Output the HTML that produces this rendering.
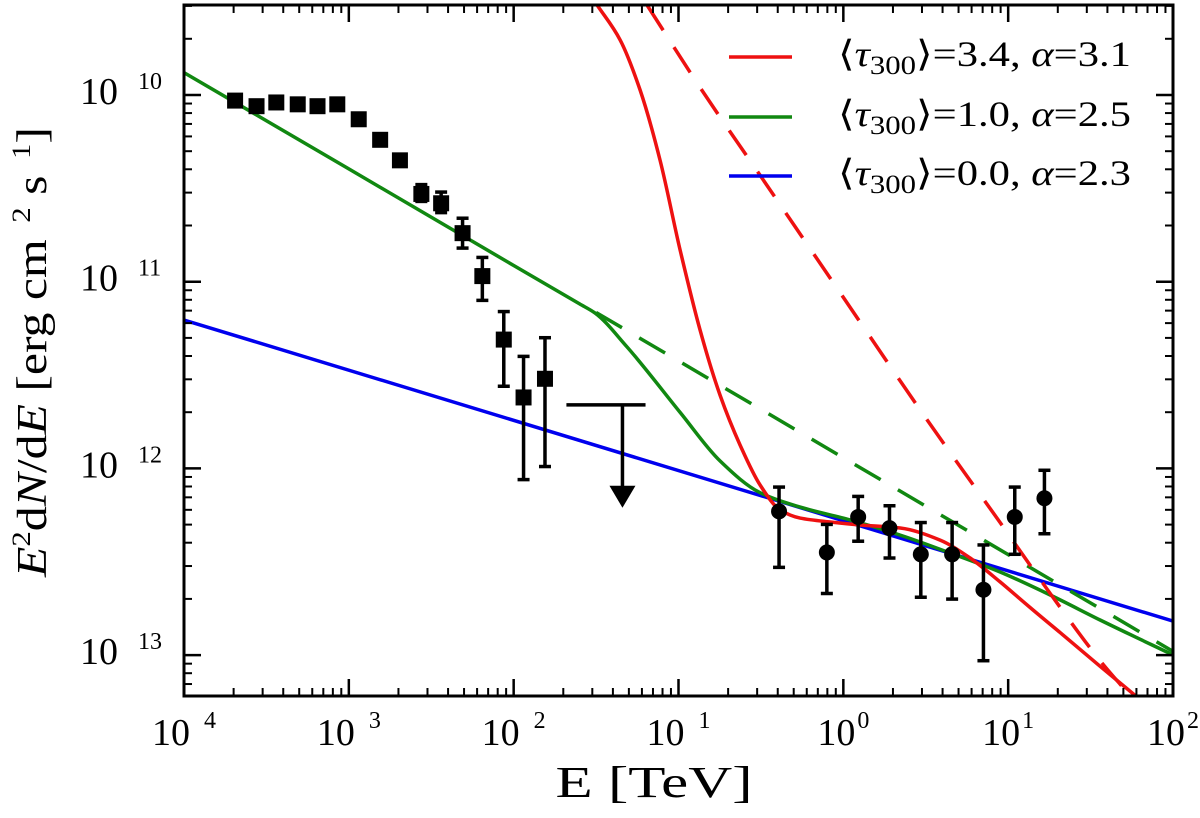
<!DOCTYPE html>
<html><head><meta charset="utf-8">
<style>
html,body{margin:0;padding:0;background:#fff;}
svg{display:block;font-family:"Liberation Serif","DejaVu Serif",serif;}
</style></head>
<body>
<svg id="chart" width="1200" height="818" viewBox="0 0 1200 818" xmlns="http://www.w3.org/2000/svg">
<defs><clipPath id="plotclip"><rect x="184" y="5" width="989" height="691"/></clipPath></defs>
<rect x="0" y="0" width="1200" height="818" fill="#fff"/>
<g id="curves" clip-path="url(#plotclip)"></g>
<g id="points"></g>
<g id="axes"></g>
<text x="654" y="797" font-size="44" text-anchor="middle" textLength="197" lengthAdjust="spacingAndGlyphs">E [TeV]</text>
<text transform="translate(46,352) rotate(-90)" font-size="42" text-anchor="middle" textLength="450" lengthAdjust="spacingAndGlyphs"><tspan font-style="italic">E</tspan><tspan font-size="26" dy="-16">2</tspan><tspan dy="16">d</tspan><tspan font-style="italic">N</tspan>/d<tspan font-style="italic">E</tspan> [erg cm<tspan font-size="26" dx="14" dy="-16">2</tspan><tspan dy="16"> s</tspan><tspan font-size="26" dx="14" dy="-16">1</tspan><tspan dy="16">]</tspan></text>
<g id="legend"></g>
</svg>
<script>
// ---- data (log10 values) ----
const xDomain = [-4, 2];
const yDomain = [-9.518, -13.219];
const sqLogE = [-3.69,-3.56,-3.44,-3.31,-3.19,-3.07,-2.94,-2.81,-2.69,-2.56,-2.44,-2.31,-2.19,-2.06,-1.94,-1.81];
const sqLogF = [-10.03,-10.06,-10.04,-10.05,-10.06,-10.05,-10.13,-10.24,-10.35,-10.53,-10.58,-10.74,-10.97,-11.31,-11.62,-11.52];
const sqErrHi = [null,null,null,null,null,null,null,null,null,-10.48,-10.52,-10.66,-10.87,-11.16,-11.40,-11.30];
const sqErrLo = [null,null,null,null,null,null,null,null,null,-10.57,-10.63,-10.82,-11.10,-11.56,-12.06,-11.99];
const ulLogE = [-1.34]; const ulLogEWidth = [-1.68,-1.20]; const ulLogF = [-11.66]; const ulArrowTo = [-12.2];
const ciLogE = [-0.39,-0.10,0.09,0.28,0.47,0.66,0.85,1.04,1.22];
const ciLogF = [-12.23,-12.45,-12.26,-12.32,-12.46,-12.46,-12.65,-12.26,-12.16];
const ciErrHi = [-12.10,-12.30,-12.15,-12.20,-12.29,-12.29,-12.41,-12.10,-12.01];
const ciErrLo = [-12.53,-12.67,-12.39,-12.48,-12.69,-12.70,-13.03,-12.46,-12.35];
const blueE = [-4, 2]; const blueF = [-11.205, -12.818];
const greenE = [-4,-3,-2,-1.6,-1.506,-1.312,-0.990,-0.748,-0.505,-0.262,0.041,0.345,0.648,0.951,1.255,1.558,2.0];
const greenF = [-9.88,-10.396,-10.913,-11.119,-11.168,-11.35,-11.70,-11.96,-12.13,-12.207,-12.276,-12.357,-12.453,-12.555,-12.678,-12.812,-12.999];
const greenDashE = [-1.5, 2]; const greenDashF = [-11.165, -12.98];
const redE = [-1.494,-1.354,-1.233,-1.112,-0.990,-0.869,-0.748,-0.626,-0.505,-0.383,-0.262,-0.080,0.102,0.345,0.587,0.769,0.951,1.133,1.316,1.558,1.831];
const redF = [-9.518,-9.705,-9.973,-10.348,-10.830,-11.259,-11.607,-11.875,-12.089,-12.223,-12.266,-12.287,-12.303,-12.319,-12.384,-12.480,-12.608,-12.745,-12.880,-13.060,-13.260];
const redDashE = [-1.191,-0.869,-0.505,-0.080,0.509,0.951,1.255,1.558,1.783];
const redDashF = [-9.518,-9.960,-10.430,-10.980,-11.741,-12.290,-12.670,-13.030,-13.260];
const xTickExp = ["4","3","2","1","0","1","2"];
const yTickExp = ["10","11","12","13"];
const yTickVals = [-10,-11,-12,-13];
const legendLabels = [["3.4","3.1"],["1.0","2.5"],["0.0","2.3"]];

const L=184,R=1173,T=5,B=696;
function sx(v){return L+(v-xDomain[0])/(xDomain[1]-xDomain[0])*(R-L);}
function sy(v){return T+(v-yDomain[0])/(yDomain[1]-yDomain[0])*(B-T);}
const NS="http://www.w3.org/2000/svg";
function mk(tag,attrs,parent){const e=document.createElementNS(NS,tag);for(const k in attrs)e.setAttribute(k,attrs[k]);parent.appendChild(e);return e;}
const curves=document.getElementById('curves'),points=document.getElementById('points'),axes=document.getElementById('axes'),legend=document.getElementById('legend');
// monotone cubic (Fritsch-Carlson) path in pixel space
function smoothPath(P){
  const n=P.length;
  if(n<3){return 'M'+P.map(p=>p[0].toFixed(1)+','+p[1].toFixed(1)).join(' L');}
  const dx=[],m=[],t=[];
  for(let i=0;i<n-1;i++){dx.push(P[i+1][0]-P[i][0]);m.push((P[i+1][1]-P[i][1])/dx[i]);}
  t[0]=m[0];t[n-1]=m[n-2];
  for(let i=1;i<n-1;i++){
    if(m[i-1]*m[i]<=0)t[i]=0;
    else{const w1=2*dx[i]+dx[i-1],w2=dx[i]+2*dx[i-1];t[i]=(w1+w2)/(w1/m[i-1]+w2/m[i]);}
  }
  let d='M'+P[0][0].toFixed(1)+','+P[0][1].toFixed(1);
  for(let i=0;i<n-1;i++){
    const h=dx[i]/3;
    d+=' C'+(P[i][0]+h).toFixed(1)+','+(P[i][1]+t[i]*h).toFixed(1)+' '+(P[i+1][0]-h).toFixed(1)+','+(P[i+1][1]-t[i+1]*h).toFixed(1)+' '+P[i+1][0].toFixed(1)+','+P[i+1][1].toFixed(1);
  }
  return d;
}
function line(E,F,color,dash,name){
  const P=E.map((e,i)=>[sx(e),sy(F[i])]);
  const p=mk('path',{d:smoothPath(P),fill:'none',stroke:color,'stroke-width':3.5},curves);
  if(dash)p.setAttribute('stroke-dasharray','30 20');
  
  
}
line(blueE,blueF,'#0000ee',false,'blue-curve-tau0');
line(greenDashE,greenDashF,'#118811',true,'green-dashed-curve');
line(greenE,greenF,'#118811',false,'green-curve-tau1');
line(redDashE,redDashF,'#ee1111',true,'red-dashed-curve');
line(redE,redF,'#ee1111',false,'red-curve-tau3');

function errbar(x,hi,lo){
  const g=mk('g',{stroke:'#000','stroke-width':3.5},points);
  mk('line',{x1:x,x2:x,y1:sy(hi),y2:sy(lo)},g);
  mk('line',{x1:x-6,x2:x+6,y1:sy(hi),y2:sy(hi)},g);
  mk('line',{x1:x-6,x2:x+6,y1:sy(lo),y2:sy(lo)},g);
  
  
}
sqLogE.forEach((e,i)=>{
  const x=sx(e),y=sy(sqLogF[i]);
  if(sqErrHi[i]!==null)errbar(x,sqErrHi[i],sqErrLo[i]);
  const r=mk('rect',{x:x-8,y:y-8,width:16,height:16,fill:'#000'},points);
  
  
});
ciLogE.forEach((e,i)=>{
  const x=sx(e),y=sy(ciLogF[i]);
  errbar(x,ciErrHi[i],ciErrLo[i]);
  const c=mk('circle',{cx:x,cy:y,r:8,fill:'#000'},points);
  
  
});
ulLogE.forEach((e,i)=>{
  const g=mk('g',{stroke:'#000','stroke-width':3.5},points);
  
  
  const x=sx(e),y=sy(ulLogF[i]),y2=sy(ulArrowTo[i]);
  mk('line',{x1:sx(ulLogEWidth[0]),x2:sx(ulLogEWidth[1]),y1:y,y2:y},g);
  mk('line',{x1:x,x2:x,y1:y,y2:y2-18},g);
  mk('path',{d:`M${x-13},${y2-20} L${x+13},${y2-20} L${x},${y2+2} Z`,fill:'#000',stroke:'none'},g);
});

// axes frame
const fr=mk('rect',{x:L,y:T,width:R-L,height:B-T,fill:'none',stroke:'#000','stroke-width':3},axes);


for(let d=xDomain[0];d<=xDomain[1];d++){
  const x=sx(d);
  mk('line',{x1:x,x2:x,y1:B,y2:B-17,stroke:'#000','stroke-width':2.5},axes);
  mk('line',{x1:x,x2:x,y1:T,y2:T+17,stroke:'#000','stroke-width':2.5},axes);
  if(d<xDomain[1])for(let m=2;m<=9;m++){
    const xm=sx(d+Math.log10(m));
    mk('line',{x1:xm,x2:xm,y1:B,y2:B-8,stroke:'#000','stroke-width':2},axes);
    mk('line',{x1:xm,x2:xm,y1:T,y2:T+8,stroke:'#000','stroke-width':2},axes);
  }
  const i=d-xDomain[0];
  const t=mk('text',{x:x,y:745,'font-size':38,'text-anchor':'middle'},axes);
  t.textContent='10';
  const ts=mk('tspan',{dx:(d<0?14:2),dy:-17,'font-size':24},t);
  ts.textContent=xTickExp[i];
  
  
}
for(let d=-10;d>=-14;d--){
  const y=sy(d);
  if(y>=T-1&&y<=B+1){
    mk('line',{x1:L,x2:L+17,y1:y,y2:y,stroke:'#000','stroke-width':2.5},axes);
    mk('line',{x1:R,x2:R-17,y1:y,y2:y,stroke:'#000','stroke-width':2.5},axes);
  }
  for(let m=2;m<=9;m++){
    const ym=sy(d+Math.log10(m));
    if(ym<T||ym>B)continue;
    mk('line',{x1:L,x2:L+8,y1:ym,y2:ym,stroke:'#000','stroke-width':2},axes);
    mk('line',{x1:R,x2:R-8,y1:ym,y2:ym,stroke:'#000','stroke-width':2},axes);
  }
}
yTickVals.forEach((v,i)=>{
  const y=sy(v);
  const t=mk('text',{x:80,y:y+9,'font-size':38},axes);
  t.textContent='10';
  const ts=mk('tspan',{dx:20,dy:-15,'font-size':24},t);
  ts.textContent=yTickExp[i];
  
  
});
// legend
const legColors=['#ee1111','#118811','#0000ee'];
const legY=[57,117,176];
legendLabels.forEach((lab,i)=>{
  const g=mk('g',{},legend);
  
  
  mk('line',{x1:729,x2:792,y1:legY[i],y2:legY[i],stroke:legColors[i],'stroke-width':3.5},g);
  const t=mk('text',{x:838,y:legY[i]+9,'font-size':36,textLength:293,lengthAdjust:'spacingAndGlyphs'},g);
  t.innerHTML='⟨<tspan font-style="italic">τ</tspan><tspan font-size="26" dy="8">300</tspan><tspan dy="-8">⟩=</tspan>'+lab[0]+', <tspan font-style="italic">α</tspan>='+lab[1];
});
</script>
</body></html>
